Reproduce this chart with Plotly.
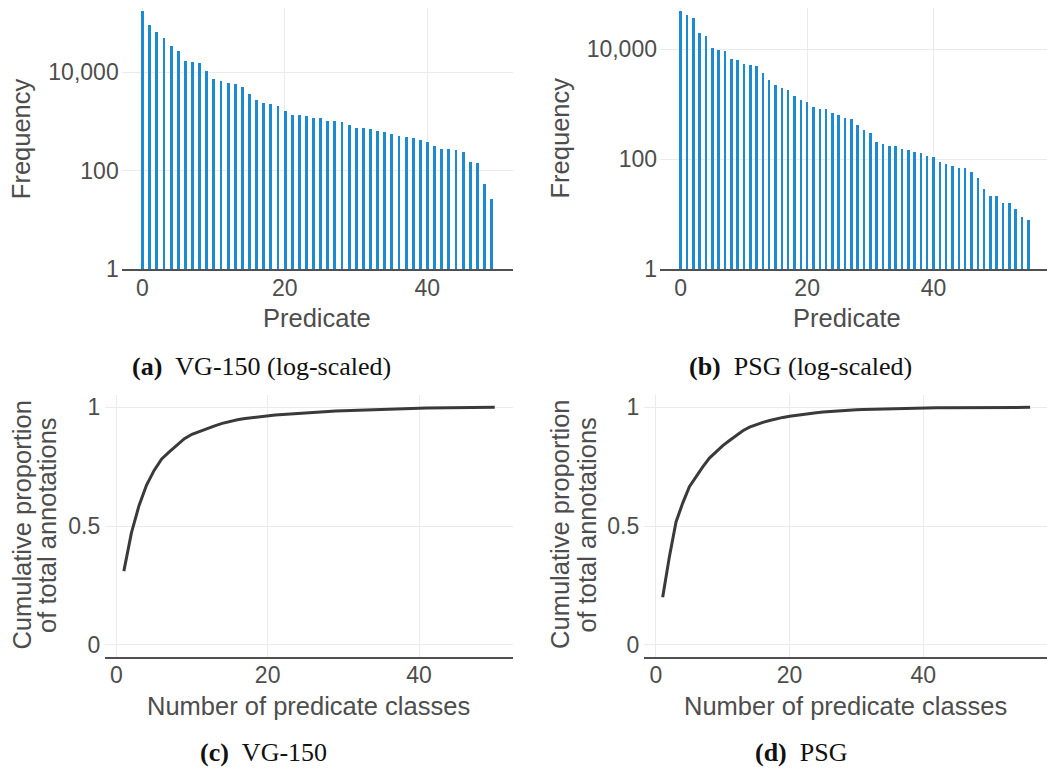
import numpy as np
import plotly.graph_objects as go

# Predicate frequencies, sorted from most to least frequent
vg_predicate = list(range(50))
vg_freq = [177000, 92000, 65600, 49900, 35100, 27500, 17100, 16600, 15300, 10600,
           7370, 6830, 6120, 5770, 5110, 3700, 2770, 2410, 2300, 2130,
           1690, 1390, 1390, 1330, 1220, 1180, 1040, 1035, 975, 850,
           760, 745, 705, 640, 620, 565, 516, 493, 471, 434,
           389, 331, 288, 278, 272, 240, 156, 150, 56, 27]

psg_predicate = list(range(56))
psg_freq = [50400, 42700, 37300, 20100, 17500, 11000, 9870, 9470, 6810, 6450,
            5470, 5250, 5110, 3730, 2830, 2270, 1990, 1850, 1450, 1245,
            1115, 909, 837, 826, 710, 645, 587, 547, 422, 343,
            308, 210, 193, 175, 175, 155, 153, 137, 135, 115,
            112, 90, 83, 78, 71, 70, 61, 47, 29, 22,
            22, 16.4, 16.4, 12.8, 9.0, 8.1]

freq_ticks = [1, 100, 10000]
freq_tick_text = ["1", "100", "10,000"]
pred_ticks = [0, 20, 40]
prop_ticks = [0, 0.5, 1]
prop_tick_text = ["0", "0.5", "1"]

# Cumulative share of annotations covered by the top-k predicate classes
vg_classes = np.arange(1, len(vg_freq) + 1)
vg_cum = np.cumsum(vg_freq) / np.sum(vg_freq)
psg_classes = np.arange(1, len(psg_freq) + 1)
psg_cum = np.cumsum(psg_freq) / np.sum(psg_freq)

W, H = 1047, 780
BAR = "#1d8ad4"
LINE = "#3a3a3a"
GRID = "#ebebeb"
AXIS = "#505050"
TXT = "#4d4d4d"
SANS = "Liberation Sans, Arial, sans-serif"
SERIF = "Liberation Serif, Times New Roman, serif"


def px_x(p):
    return p / W


def px_y(p):
    return 1 - p / H


fig = go.Figure()

fig.add_trace(go.Bar(x=vg_predicate, y=vg_freq, width=0.4, marker=dict(color=BAR, line=dict(width=0)),
                     xaxis="x", yaxis="y", showlegend=False))
fig.add_trace(go.Bar(x=psg_predicate, y=psg_freq, width=0.4, marker=dict(color=BAR, line=dict(width=0)),
                     xaxis="x2", yaxis="y2", showlegend=False))
fig.add_trace(go.Scatter(x=vg_classes, y=vg_cum, mode="lines", line=dict(color=LINE, width=3),
                         xaxis="x3", yaxis="y3", showlegend=False))
fig.add_trace(go.Scatter(x=psg_classes, y=psg_cum, mode="lines", line=dict(color=LINE, width=3),
                         xaxis="x4", yaxis="y4", showlegend=False))

tickfont = dict(family=SANS, size=23, color=TXT)


def xaxis(domain, rng, anchor):
    return dict(domain=domain, range=rng, anchor=anchor, tickvals=pred_ticks,
                showgrid=True, gridcolor=GRID, gridwidth=1.3,
                zeroline=True, zerolinecolor=GRID, zerolinewidth=1.3,
                showline=True, linecolor=AXIS, linewidth=2,
                ticks="", tickfont=tickfont, ticklabelstandoff=-3)


def logyaxis(domain, rng, anchor):
    return dict(domain=domain, range=rng, anchor=anchor, type="log",
                tickvals=freq_ticks, ticktext=freq_tick_text,
                showgrid=True, gridcolor=GRID, gridwidth=1.3,
                showline=False, ticks="", tickfont=tickfont, ticklabelstandoff=2)


def propyaxis(domain, anchor):
    return dict(domain=domain, range=[-0.05, 1.05], anchor=anchor,
                tickvals=prop_ticks, ticktext=prop_tick_text,
                showgrid=True, gridcolor=GRID, gridwidth=1.3,
                zeroline=True, zerolinecolor=GRID, zerolinewidth=1.3,
                showline=False, ticks="", tickfont=tickfont, ticklabelstandoff=4)


top_dom = [px_y(273.3), px_y(6.7)]
bot_dom = [px_y(667.5), px_y(401.7)]

fig.update_layout(
    width=W, height=H,
    margin=dict(l=0, r=0, t=0, b=0),
    paper_bgcolor="white", plot_bgcolor="white",
    bargap=0,
    xaxis=xaxis([px_x(121.7), px_x(513)], [-2.9, 52.05], "y"),
    yaxis=logyaxis(top_dom, [0, 5.31], "x"),
    xaxis2=xaxis([px_x(660), 1], [-3.28, 57.95], "y2"),
    yaxis2=logyaxis(top_dom, [0, 4.761], "x2"),
    xaxis3=xaxis([px_x(105.3), px_x(513.3)], [-1.45, 52.45], "y3"),
    yaxis3=propyaxis(bot_dom, "x3"),
    xaxis4=xaxis([px_x(644.3), 1], [-1.75, 58.53], "y4"),
    yaxis4=propyaxis(bot_dom, "x4"),
)

titlefont = dict(family=SANS, size=25.5, color=TXT)
capfont = dict(family=SERIF, size=26, color="#111111")


def label(text, x, y, font, angle=0):
    fig.add_annotation(text=text, x=px_x(x), y=px_y(y), xref="paper", yref="paper",
                       showarrow=False, xanchor="center", yanchor="middle",
                       textangle=angle, font=font)


# Axis titles
label("Frequency", 21.7, 140, titlefont, -90)
label("Frequency", 560, 140, titlefont, -90)
label("Predicate", 317.4, 322.5, titlefont)
label("Predicate", 846.7, 322.5, titlefont)
label("Cumulative proportion", 21.7, 533.5, titlefont, -90)
label("of total annotations", 47, 533.5, titlefont, -90)
label("Cumulative proportion", 560, 533.5, titlefont, -90)
label("of total annotations", 586.7, 533.5, titlefont, -90)
label("Number of predicate classes", 308.3, 718, titlefont)
label("Number of predicate classes", 845.8, 718, titlefont)

# Sub-figure captions
label("<b>(a)</b>\u00a0\u00a0VG-150 (log-scaled)", 261.7, 371.7, capfont)
label("<b>(b)</b>\u00a0\u00a0PSG (log-scaled)", 800.8, 371.7, capfont)
label("<b>(c)</b>\u00a0\u00a0VG-150", 263.3, 765, capfont)
label("<b>(d)</b>\u00a0\u00a0PSG", 800.8, 765, capfont)

fig.write_html("out.html")
